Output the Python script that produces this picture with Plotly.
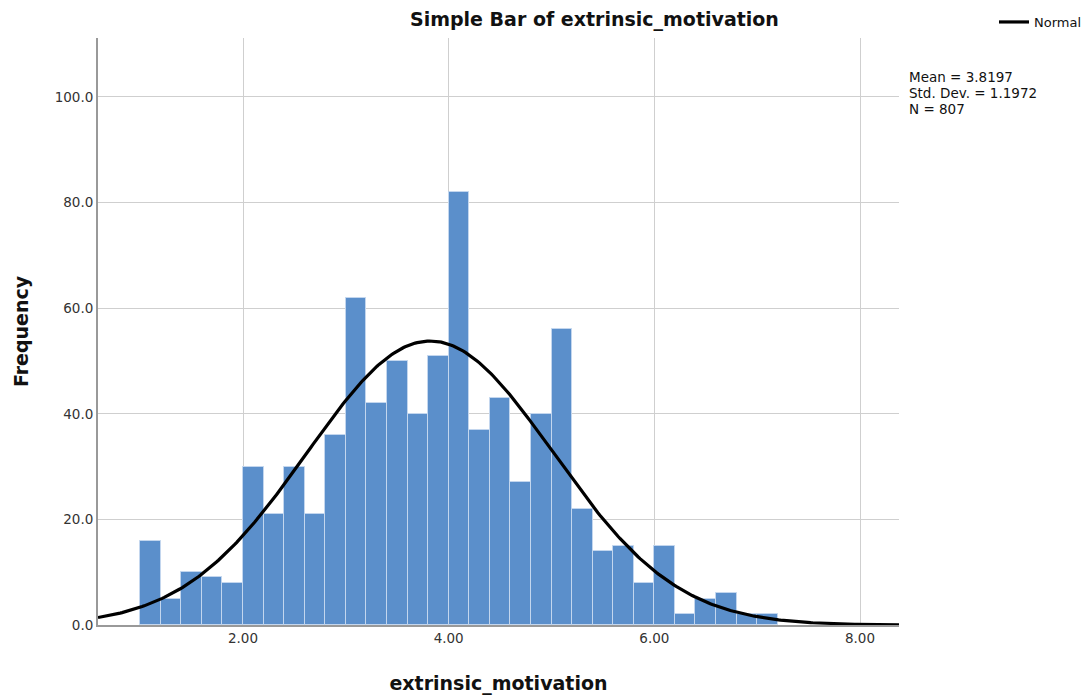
import numpy as np
import plotly.graph_objects as go

# ---- data ----
bin_left = [1.0, 1.2, 1.4, 1.6, 1.8, 2.0, 2.2, 2.4, 2.6, 2.8,
            3.0, 3.2, 3.4, 3.6, 3.8, 4.0, 4.2, 4.4, 4.6, 4.8,
            5.0, 5.2, 5.4, 5.6, 5.8, 6.0, 6.2, 6.4, 6.6, 6.8, 7.0]
frequency = [16, 5, 10, 9, 8, 30, 21, 30, 21, 36,
             62, 42, 50, 40, 51, 82, 37, 43, 27, 40,
             56, 22, 14, 15, 8, 15, 2, 5, 6, 2, 2]
bin_width = 0.2
mean_val = 3.8197
sd_val = 1.1972
n_val = 807
x_ticks = [2, 4, 6, 8]
x_tick_labels = ["2.00", "4.00", "6.00", "8.00"]
y_ticks = [0, 20, 40, 60, 80, 100]
y_tick_labels = ["0.0", "20.0", "40.0", "60.0", "80.0", "100.0"]

x_range = [0.590, 8.379]
y_range = [0, 111.17]

centers = [b + bin_width / 2 for b in bin_left]
xs = np.linspace(x_range[0], x_range[1], 400)
normal_y = n_val * bin_width * np.exp(-0.5 * ((xs - mean_val) / sd_val) ** 2) / (sd_val * np.sqrt(2 * np.pi))

FONT = "DejaVu Sans, Arial, sans-serif"

fig = go.Figure()
fig.add_trace(go.Bar(
    x=centers, y=frequency, width=bin_width,
    marker=dict(color="#5b8fcb", line=dict(color="#c3d6ee", width=1)),
    showlegend=False, hoverinfo="x+y",
))
fig.add_trace(go.Scatter(
    x=xs, y=normal_y, mode="lines", name="Normal",
    line=dict(color="black", width=3.2), showlegend=True,
))

L, R, T, B = 98, 191, 38, 74
W, H = 1090, 699
pw, ph = W - L - R, H - T - B

def px(xp):
    return (xp - L) / pw

def py(yp):
    return (H - B - yp) / ph

annotations = [
    dict(text="<b>Simple Bar of extrinsic_motivation</b>", x=px(594), y=py(20),
         xref="paper", yref="paper", showarrow=False, xanchor="center", yanchor="middle",
         font=dict(family=FONT, size=19, color="#111")),
]
for i, t in enumerate([f"Mean = {mean_val}", f"Std. Dev. = {sd_val}", f"N = {n_val}"]):
    annotations.append(dict(text=t, x=px(907), y=py(76.5 + 16 * i), xref="paper", yref="paper",
                            showarrow=False, xanchor="left", yanchor="middle",
                            font=dict(family=FONT, size=13.5, color="#111")))

fig.update_layout(
    width=W, height=H,
    margin=dict(l=L, r=R, t=T, b=B, autoexpand=False),
    paper_bgcolor="white", plot_bgcolor="white",
    bargap=0,
    font=dict(family=FONT, size=13.5, color="#333"),
    annotations=annotations,
    legend=dict(x=px(994), y=py(22), xanchor="left", yanchor="middle",
                font=dict(family=FONT, size=13, color="#111"),
                bgcolor="rgba(0,0,0,0)", itemwidth=30, tracegroupgap=0),
    xaxis=dict(
        range=x_range, tickvals=x_ticks, ticktext=x_tick_labels,
        showgrid=True, gridcolor="#cfcfcf", gridwidth=1,
        showline=True, linecolor="#999", linewidth=2,
        ticks="", zeroline=False,
        tickfont=dict(family=FONT, size=13.5, color="#333"),
        title=dict(text="<b>extrinsic_motivation</b>", font=dict(family=FONT, size=19, color="#111"), standoff=31),
    ),
    yaxis=dict(
        range=y_range, tickvals=y_ticks, ticktext=y_tick_labels,
        showgrid=True, gridcolor="#cfcfcf", gridwidth=1,
        showline=True, linecolor="#999", linewidth=2,
        ticks="", zeroline=False,
        tickfont=dict(family=FONT, size=13.5, color="#333"),
        title=dict(text="<b>Frequency</b>", font=dict(family=FONT, size=19, color="#111"), standoff=21),
    ),
)

fig.write_html("out.html")
